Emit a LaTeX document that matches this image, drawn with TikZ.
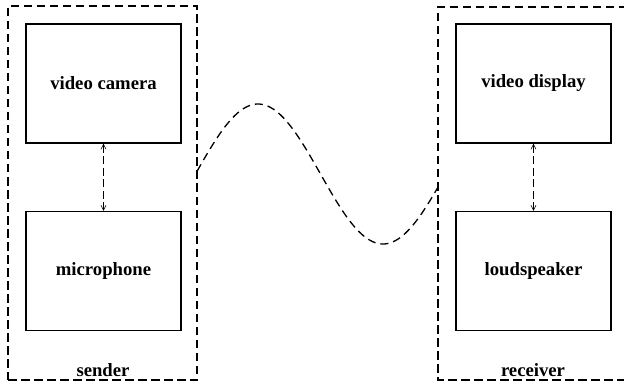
\documentclass[tikz,border=0pt]{standalone}
\usepackage{fontspec}
\setmainfont{Liberation Serif}
\usetikzlibrary{arrows.meta}
\begin{document}
\begin{tikzpicture}[x=1pt,y=-1pt,
  dev/.style={draw,line width=1.4pt,minimum width=155pt,minimum height=119pt,inner sep=0pt,
    font=\fontsize{18.7}{22}\selectfont\bfseries},
  grp/.style={draw,line width=1.3pt,dash pattern=on 8.5pt off 4.5pt},
  lbl/.style={anchor=base,inner sep=0pt,font=\fontsize{18.7}{22}\selectfont\bfseries},
  link/.style={line width=0.5pt,dash pattern=on 8pt off 3.5pt,{Straight Barb[length=5pt,width=5pt]}-{Straight Barb[length=5pt,width=5pt]}},
  wave/.style={line width=1.3pt,dash pattern=on 8pt off 5pt}]
\useasboundingbox (0,0) rectangle (624,385);
\clip (0,0) rectangle (624,385);
% groups
\node[grp,minimum width=189pt,minimum height=374pt,inner sep=0pt] (sender) at (102.5,193) {};
\coordinate (rtl) at (438,7);
\coordinate (rbl) at (438,380);
\draw[grp] (640,7) -- (rtl) -- (rbl) -- (640,380);
% devices
\node[dev] (cam) at (103.5,83.5) {video camera};
\node[dev] (mic) at (103.5,271) {microphone};
\node[dev] (disp) at (533.5,83.5) {video display};
\node[dev] (spk) at (533.5,271) {loudspeaker};
% links
\draw[link] (cam.south) -- (mic.north);
\draw[link] (disp.south) -- (spk.north);
% labels
\node[lbl] (slbl) at (103,376) {sender};
\node[lbl] (rlbl) at (533,376) {receiver};
% wave
\draw[wave] plot[domain=197:438,samples=120,smooth] (\x,{174-70*sin((\x-197)*1.44+2.16)});
\end{tikzpicture}
\end{document}
